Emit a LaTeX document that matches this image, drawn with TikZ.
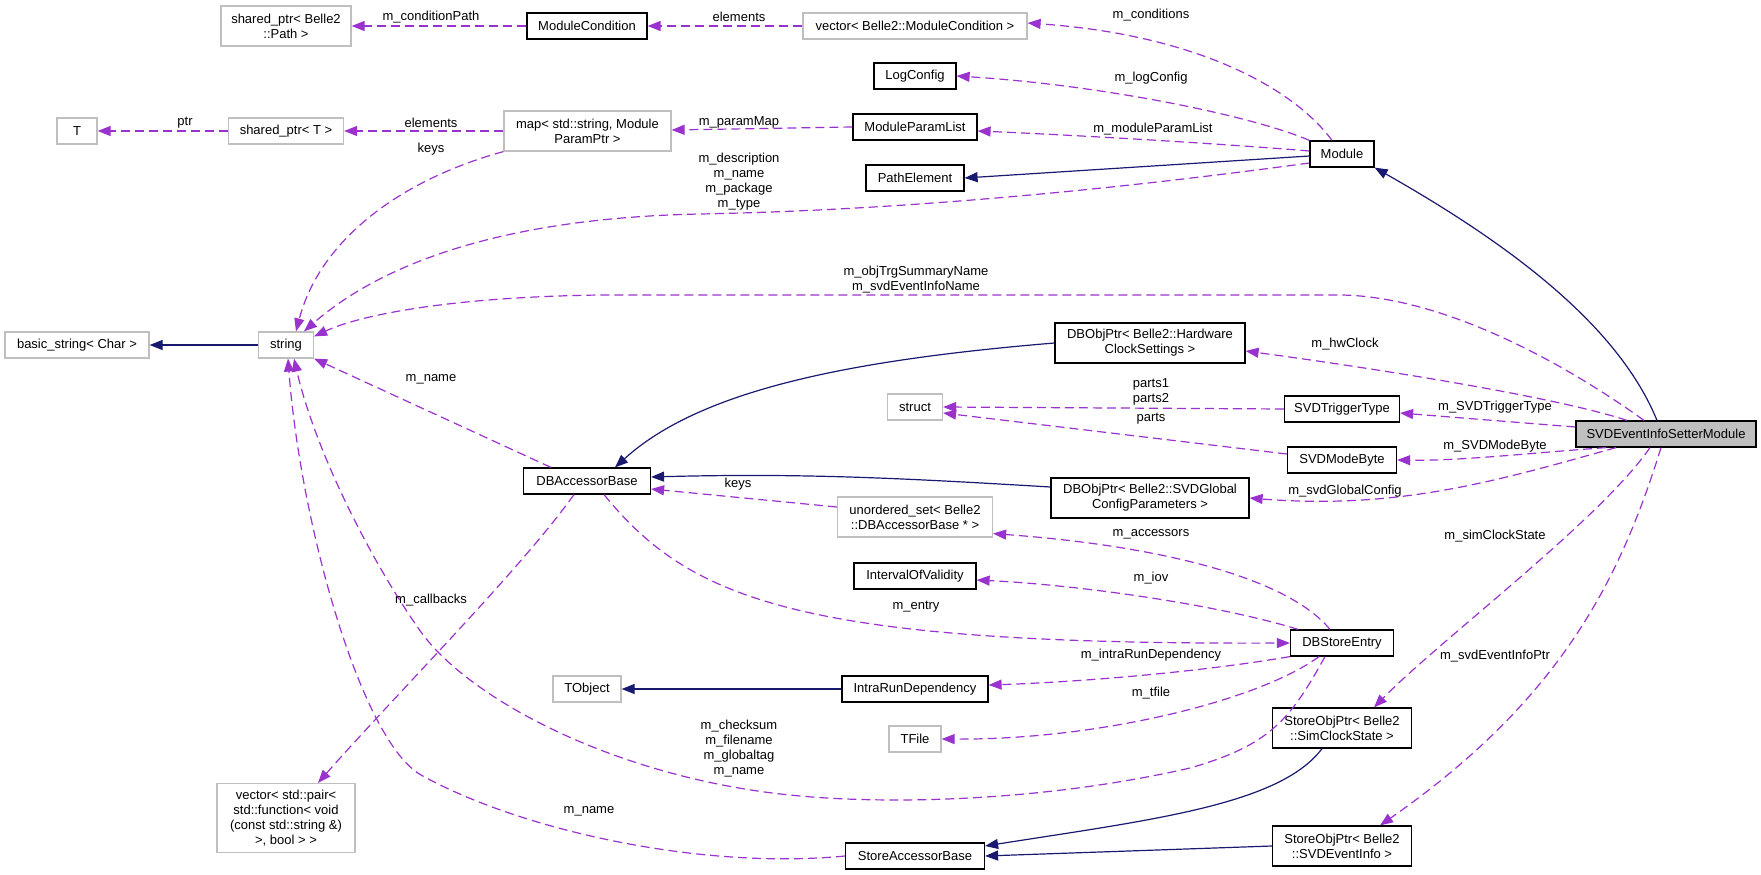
\documentclass[tikz,border=0pt]{standalone}
\usepackage{fontspec}
\setmainfont{Liberation Sans}
\usetikzlibrary{arrows.meta}

\definecolor{usecol}{HTML}{9A32CD}
\definecolor{inhcol}{HTML}{191970}
\definecolor{extgray}{HTML}{BFBFBF}

\begin{document}
\begin{tikzpicture}[
    x=1pt, y=-1pt,
    >={Triangle[length=13pt,width=10pt]},
    % --- class boxes ---
    docnode/.style={
        draw=black, line width=1.2pt, fill=white,
        minimum width=#1, minimum height=26pt, inner sep=1pt,
        align=center, font=\fontsize{13}{15}\selectfont
    },
    docnode/.default=60pt,
    extnode/.style={docnode=#1, draw=extgray},
    extnode/.default=60pt,
    mainnode/.style={docnode=#1, fill=extgray},
    twoline/.style={minimum height=40pt},
    % --- connector styles ---
    usage/.style={->, draw=usecol, line width=1.2pt, dash pattern=on 9pt off 5pt},
    inherit/.style={->, draw=inhcol, line width=1.2pt},
    edgelbl/.style={font=\fontsize{13}{15}\selectfont, inner sep=0pt, align=center},
]
\useasboundingbox (0,0) rectangle (1761,875);

% ---- Nodes (top rows) ----
\node[extnode=130pt, twoline] (shpath) at (286,26) {shared\_ptr< Belle2\\::Path >};
\node[docnode=120pt] (modcond) at (587,26) {ModuleCondition};
\node[extnode=224pt] (vecmc) at (915,26) {vector< Belle2::ModuleCondition >};
\node[docnode=82pt] (logcfg) at (915,76) {LogConfig};
\node[extnode=40pt] (tparam) at (77,131) {T};
\node[extnode=115pt] (shT) at (286,131) {shared\_ptr< T >};
\node[extnode=167pt, twoline] (pmap) at (587.5,131) {map< std::string, Module\\ParamPtr >};
\node[docnode=124pt] (mpl) at (915,127) {ModuleParamList};
\node[docnode=64pt] (module) at (1342,154) {Module};
\node[docnode=98pt] (pathel) at (915,178) {PathElement};

% ---- Nodes (middle rows) ----
\node[extnode=144pt] (basic) at (77,345) {basic\_string< Char >};
\node[extnode=55pt] (str) at (286,345) {string};
\node[docnode=190pt, twoline] (hwclk) at (1150,343) {DBObjPtr< Belle2::Hardware\\ClockSettings >};
\node[extnode=55pt] (cstruct) at (915,407) {struct};
\node[docnode=115pt] (trig) at (1342,409) {SVDTriggerType};
\node[mainnode=180pt] (svd) at (1666,434) {SVDEventInfoSetterModule};
\node[docnode=109pt] (mode) at (1342,460) {SVDModeByte};
\node[docnode=127pt] (dbab) at (587,481) {DBAccessorBase};
\node[docnode=198pt, twoline] (glob) at (1150,498) {DBObjPtr< Belle2::SVDGlobal\\ConfigParameters >};
\node[extnode=155pt, twoline] (uset) at (915,517) {unordered\_set< Belle2\\::DBAccessorBase * >};

% ---- Nodes (bottom rows) ----
\node[docnode=122pt] (iov) at (915,576) {IntervalOfValidity};
\node[docnode=103pt] (dbse) at (1342,643) {DBStoreEntry};
\node[extnode=68pt] (tobj) at (587,689) {TObject};
\node[docnode=146pt] (intra) at (915,689) {IntraRunDependency};
\node[extnode=52pt] (tfile) at (915,739) {TFile};
\node[docnode=139pt, twoline] (simclk) at (1342,728) {StoreObjPtr< Belle2\\::SimClockState >};
\node[extnode=138pt, minimum height=69pt] (vpair) at (286,818) {vector< std::pair<\\ std::function< void\\(const std::string \&)\\>, bool > >};
\node[docnode=139pt] (sab) at (915,856) {StoreAccessorBase};
\node[docnode=139pt, twoline] (svdinfo) at (1342,846) {StoreObjPtr< Belle2\\::SVDEventInfo >};

% ---- Inheritance ----
\draw[inherit] (str.west) -- (basic.east);
\draw[inherit] ([yshift=-2pt]module.west) -- (pathel.east);
\draw[inherit] ([xshift=-9pt]svd.north) .. controls (1620,330) and (1520,250) .. (module.south east);
\draw[inherit] (hwclk.west) .. controls (850,360) and (700,390) .. ([xshift=28pt]dbab.north);
\draw[inherit] ([yshift=11pt]glob.west) .. controls (900,478) and (800,473) .. ([yshift=4pt]dbab.east);
\draw[inherit] (intra.west) -- (tobj.east);
\draw[inherit] ([xshift=-20pt]simclk.south) .. controls (1280,805) and (1150,820) .. ([yshift=10pt]sab.east);
\draw[inherit] (svdinfo.west) -- (sab.east);

% ---- Usage: Module side ----
\draw[usage] (modcond.west) -- (shpath.east) node[edgelbl] at (431,17) {m\_conditionPath};
\draw[usage] (vecmc.west) -- (modcond.east) node[edgelbl] at (739,17) {elements};
\draw[usage] ([xshift=-10pt]module.north) .. controls (1295,90) and (1200,35) .. ([yshift=3pt]vecmc.east)
    node[edgelbl] at (1151,15) {m\_conditions};
\draw[usage] (module.north west) .. controls (1250,115) and (1100,85) .. (logcfg.east)
    node[edgelbl] at (1151,78) {m\_logConfig};
\draw[usage] ([yshift=3pt]module.west) .. controls (1200,142) and (1050,134) .. ([yshift=-4pt]mpl.east)
    node[edgelbl] at (1153,129) {m\_moduleParamList};
\draw[usage] ([yshift=-9pt]module.west) .. controls (1000,205) and (800,212) .. (700,214)
    .. controls (500,218) and (380,265) .. ([xshift=18pt]str.north)
    node[edgelbl] at (739,182) {m\_description\\m\_name\\m\_package\\m\_type};
\draw[usage] (mpl.west) -- ([yshift=1pt]pmap.east) node[edgelbl] at (739,122) {m\_paramMap};
\draw[usage] (pmap.west) -- (shT.east) node[edgelbl] at (431,123) {elements};
\draw[usage] (shT.west) -- (tparam.east) node[edgelbl] at (185,123) {ptr};
\draw[usage] (pmap.south west) .. controls (400,180) and (320,240) .. ([xshift=10pt]str.north)
    node[edgelbl] at (431,149) {keys};

% ---- Usage: SVDEventInfoSetterModule ----
\draw[usage] ([xshift=-22pt]svd.north) .. controls (1560,360) and (1440,296) .. (1340,295)
    -- (600,295) .. controls (450,297) and (360,315) .. ([yshift=-5pt]str.north east)
    node[edgelbl] at (916,280) {m\_objTrgSummaryName\\m\_svdEventInfoName};
\draw[usage] ([xshift=-39pt]svd.north) .. controls (1550,395) and (1350,365) .. ([yshift=-8pt]hwclk.east)
    node[edgelbl] at (1345,344) {m\_hwClock};
\draw[usage] ([yshift=7pt]svd.west) -- ([yshift=-4pt]trig.east)
    node[edgelbl] at (1495,407) {m\_SVDTriggerType};
\draw[usage] ([xshift=-60pt]svd.south) .. controls (1530,453) and (1460,461) .. (mode.east)
    node[edgelbl] at (1495,446) {m\_SVDModeByte};
\draw[usage] ([xshift=-50pt]svd.south) .. controls (1500,480) and (1400,510) .. (glob.east)
    node[edgelbl] at (1345,491) {m\_svdGlobalConfig};
\draw[usage] ([xshift=-16pt]svd.south) .. controls (1600,520) and (1440,640) .. ([xshift=32pt]simclk.north)
    node[edgelbl] at (1495,536) {m\_simClockState};
\draw[usage] ([xshift=-5pt]svd.south) .. controls (1620,580) and (1560,700) .. ([xshift=38pt]svdinfo.north)
    node[edgelbl] at (1495,656) {m\_svdEventInfoPtr};
\draw[usage] (trig.west) -- (cstruct.east) node[edgelbl] at (1151,392) {parts1\\parts2};
\draw[usage] ([yshift=6pt]mode.west) -- ([yshift=-6pt]cstruct.east) node[edgelbl] at (1151,419) {parts};

% ---- Usage: database side ----
\draw[usage] ([yshift=10pt]uset.west) -- ([yshift=-8pt]dbab.east) node[edgelbl] at (738,484) {keys};
\draw[usage] ([xshift=-12pt]dbse.north) .. controls (1285,575) and (1150,545) .. ([yshift=4pt]uset.south east)
    node[edgelbl] at (1151,534) {m\_accessors};
\draw[usage] ([xshift=-44pt]dbse.north) .. controls (1220,605) and (1080,585) .. ([yshift=-4pt]iov.east)
    node[edgelbl] at (1151,578) {m\_iov};
\draw[usage] ([xshift=17pt]dbab.south) .. controls (690,600) and (800,645) .. (dbse.west)
    node[edgelbl] at (916,607) {m\_entry};
\draw[usage] (dbse.south west) .. controls (1200,672) and (1080,682) .. ([yshift=4pt]intra.east)
    node[edgelbl] at (1151,655) {m\_intraRunDependency};
\draw[usage] ([xshift=-23pt]dbse.south) .. controls (1260,700) and (1100,740) .. (tfile.east)
    node[edgelbl] at (1151,693) {m\_tfile};
\draw[usage] ([xshift=-17pt]dbse.south) .. controls (1290,720) and (1270,745) .. (1190,768)
    .. controls (1050,800) and (900,805) .. (800,796)
    .. controls (620,780) and (470,700) .. (421,632)
    .. controls (370,560) and (315,450) .. ([xshift=8pt]str.south)
    node[edgelbl] at (739,749) {m\_checksum\\m\_filename\\m\_globaltag\\m\_name};
\draw[usage] ([xshift=-36pt]dbab.north) -- (str.south east) node[edgelbl] at (431,379) {m\_name};
\draw[usage] ([xshift=-13pt]dbab.south) .. controls (520,570) and (400,690) .. ([xshift=32pt]vpair.north)
    node[edgelbl] at (431,600) {m\_callbacks};
\draw[usage] (sab.west) .. controls (700,870) and (520,830) .. (421,775)
    .. controls (360,740) and (300,520) .. ([xshift=2pt]str.south)
    node[edgelbl] at (589,811) {m\_name};

\end{tikzpicture}
\end{document}
